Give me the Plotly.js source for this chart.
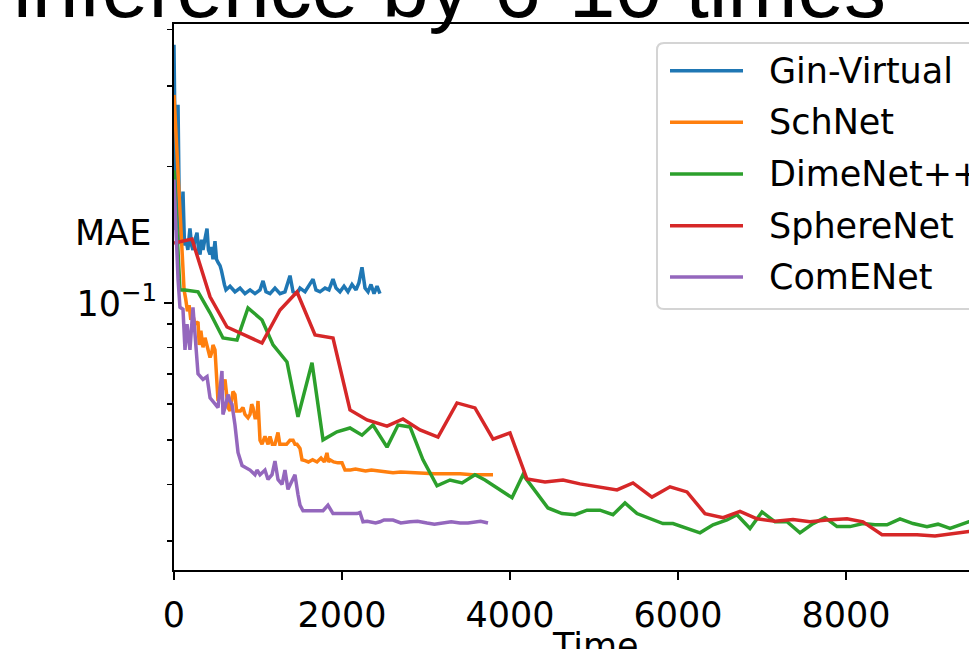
<!DOCTYPE html>
<html><head><meta charset="utf-8">
<script src="https://cdn.plot.ly/plotly-3.0.1.min.js"></script>
<style>html,body{margin:0;padding:0;background:#fff;overflow:hidden}#chart{width:969px;height:649px}</style>
</head><body><div id="chart"></div>
<script>
// ---------------- data ----------------
const seriesNames = ['Gin-Virtual', 'SchNet', 'DimeNet++', 'SphereNet', 'ComENet'];
const seriesColors = ['#1f77b4', '#ff7f0e', '#2ca02c', '#d62728', '#9467bd'];
const xTickVals = [0, 2000, 4000, 6000, 8000];
const xTickText = ['0', '2000', '4000', '6000', '8000'];
const yTickVals = [0.1];
const yTickText = ['10<sup>\u22121</sup>'];
const yMinorVals = [0.03, 0.04, 0.05, 0.06, 0.07, 0.08, 0.09, 0.2, 0.3, 0.4];

const ginTime = [0, 24, 48, 65, 83, 107, 125, 143, 165, 190, 210, 226, 250, 274, 292, 310, 328, 345, 370, 393, 410, 429, 446, 464, 488, 506, 524, 548, 565, 583, 600, 619, 667, 726, 786, 845, 905, 964, 1024, 1060, 1095, 1143, 1202, 1262, 1321, 1381, 1417, 1464, 1500, 1560, 1607, 1655, 1690, 1738, 1798, 1845, 1893, 1929, 1976, 2024, 2071, 2119, 2167, 2202, 2238, 2274, 2310, 2345, 2381, 2417, 2452];
const ginMAE = [0.370, 0.145, 0.273, 0.149, 0.135, 0.176, 0.134, 0.138, 0.131, 0.146, 0.134, 0.131, 0.138, 0.143, 0.131, 0.128, 0.138, 0.131, 0.139, 0.146, 0.131, 0.128, 0.133, 0.125, 0.137, 0.125, 0.123, 0.121, 0.118, 0.113, 0.110, 0.107, 0.109, 0.106, 0.108, 0.105, 0.107, 0.105, 0.107, 0.112, 0.106, 0.105, 0.108, 0.105, 0.106, 0.115, 0.106, 0.105, 0.108, 0.106, 0.109, 0.113, 0.107, 0.106, 0.108, 0.107, 0.113, 0.108, 0.106, 0.109, 0.106, 0.110, 0.107, 0.111, 0.120, 0.108, 0.106, 0.110, 0.105, 0.109, 0.105];

const schTime = [0, 60, 95, 120, 140, 160, 180, 200, 226, 250, 286, 300, 320, 345, 369, 400, 429, 450, 464, 488, 505, 524, 550, 583, 607, 625, 643, 667, 702, 726, 745, 762, 790, 821, 845, 881, 905, 925, 940, 965, 988, 1000, 1010, 1024, 1048, 1083, 1120, 1143, 1170, 1202, 1238, 1260, 1298, 1340, 1380, 1417, 1440, 1464, 1500, 1524, 1560, 1600, 1650, 1702, 1750, 1790, 1821, 1840, 1857, 1900, 1950, 2000, 2036, 2100, 2160, 2214, 2280, 2350, 2429, 2480, 2536, 2607, 2700, 2845, 2950, 3100, 3250, 3405, 3550, 3700, 3798];
const schMAE = [0.287, 0.169, 0.125, 0.107, 0.102, 0.096, 0.099, 0.092, 0.094, 0.090, 0.091, 0.081, 0.087, 0.080, 0.084, 0.079, 0.076, 0.078, 0.081, 0.079, 0.070, 0.061, 0.063, 0.065, 0.068, 0.063, 0.059, 0.058, 0.064, 0.063, 0.058, 0.058, 0.058, 0.059, 0.057, 0.056, 0.057, 0.060, 0.059, 0.056, 0.056, 0.061, 0.055, 0.050, 0.049, 0.051, 0.049, 0.051, 0.049, 0.049, 0.052, 0.049, 0.049, 0.049, 0.050, 0.050, 0.049, 0.049, 0.048, 0.0453, 0.0451, 0.0448, 0.0453, 0.0448, 0.0457, 0.0448, 0.0469, 0.0448, 0.0453, 0.0448, 0.0446, 0.0446, 0.0430, 0.0430, 0.0432, 0.0430, 0.0428, 0.0430, 0.0428, 0.0426, 0.0424, 0.0424, 0.0426, 0.0424, 0.0424, 0.0422, 0.0422, 0.0422, 0.0420, 0.0420, 0.0420];

const dimeTime = [0, 71, 131, 286, 429, 583, 750, 881, 1048, 1179, 1345, 1476, 1643, 1774, 1940, 2095, 2238, 2369, 2536, 2667, 2810, 2964, 3131, 3286, 3429, 3583, 3702, 3881, 4024, 4155, 4452, 4619, 4774, 4917, 5071, 5226, 5369, 5512, 5667, 5821, 5940, 6107, 6262, 6417, 6583, 6702, 6857, 7000, 7155, 7298, 7452, 7607, 7750, 7893, 8048, 8202, 8345, 8488, 8643, 8798, 8964, 9095, 9238, 9357, 9464, 9619];
const dimeMAE = [0.196, 0.107, 0.107, 0.106, 0.0953, 0.0839, 0.0830, 0.0977, 0.0919, 0.0810, 0.0743, 0.0563, 0.0740, 0.0501, 0.0522, 0.0532, 0.0513, 0.0540, 0.0483, 0.0540, 0.0535, 0.0453, 0.0397, 0.0409, 0.0403, 0.0420, 0.0409, 0.0389, 0.0374, 0.0420, 0.0355, 0.0345, 0.0343, 0.0351, 0.0351, 0.0343, 0.0364, 0.0345, 0.0336, 0.0328, 0.0328, 0.0320, 0.0313, 0.0326, 0.0334, 0.0343, 0.0320, 0.0348, 0.0331, 0.0331, 0.0313, 0.0328, 0.0338, 0.0323, 0.0323, 0.0328, 0.0326, 0.0326, 0.0336, 0.0328, 0.0323, 0.0327, 0.0320, 0.0326, 0.0331, 0.0336];

const sphereTime = [0, 214, 429, 631, 1048, 1262, 1464, 1679, 1893, 2095, 2298, 2536, 2726, 2929, 3143, 3369, 3583, 3798, 4000, 4202, 4417, 4631, 4833, 5071, 5274, 5464, 5690, 5905, 6107, 6321, 6536, 6738, 6940, 7155, 7369, 7571, 7774, 8012, 8202, 8429, 8643, 8845, 9060, 9274, 9464, 9655];
const sphereMAE = [0.1357, 0.1384, 0.1033, 0.0887, 0.0818, 0.0967, 0.1059, 0.0852, 0.0839, 0.0583, 0.0554, 0.0537, 0.0557, 0.0527, 0.0508, 0.0604, 0.0589, 0.0503, 0.0519, 0.0411, 0.0405, 0.0409, 0.0401, 0.0395, 0.0389, 0.0403, 0.0375, 0.0395, 0.0385, 0.0345, 0.0338, 0.0349, 0.0336, 0.0332, 0.0335, 0.0331, 0.0334, 0.0336, 0.0331, 0.0310, 0.0310, 0.0310, 0.0308, 0.0312, 0.0315, 0.0317];

const comeTime = [0, 25, 48, 71, 107, 131, 155, 190, 226, 262, 286, 345, 393, 429, 464, 524, 571, 583, 607, 643, 665, 690, 726, 762, 810, 905, 964, 988, 1024, 1083, 1119, 1167, 1202, 1238, 1286, 1321, 1357, 1417, 1440, 1476, 1500, 1536, 1655, 1774, 1833, 1893, 2060, 2179, 2214, 2250, 2300, 2400, 2452, 2500, 2607, 2700, 2810, 2900, 3012, 3100, 3300, 3405, 3500, 3650, 3738];
const comeMAE = [0.187, 0.138, 0.113, 0.098, 0.097, 0.079, 0.090, 0.079, 0.098, 0.080, 0.070, 0.068, 0.069, 0.062, 0.061, 0.059, 0.071, 0.057, 0.059, 0.063, 0.061, 0.060, 0.054, 0.047, 0.044, 0.043, 0.042, 0.043, 0.042, 0.043, 0.041, 0.042, 0.045, 0.041, 0.040, 0.043, 0.039, 0.041, 0.042, 0.038, 0.036, 0.035, 0.035, 0.035, 0.036, 0.0345, 0.0345, 0.0345, 0.0347, 0.0331, 0.0332, 0.0329, 0.0331, 0.0334, 0.0334, 0.0329, 0.0331, 0.0332, 0.0329, 0.0327, 0.0331, 0.0329, 0.0329, 0.0332, 0.0329];

const titleText = 'inference by 6-10 times';
const xLabel = 'Time';
const yLabel = 'MAE';

// ---------------- layout geometry ----------------
const W = 969, H = 649, L = 174, T = 24, B = 79, R = 0;
const PW = W - L - R, PH = H - T - B;
const px = x => (x - L) / PW;          // pixel -> paper x
const py = y => (H - B - y) / PH;      // pixel -> paper y

const xs = [ginTime, schTime, dimeTime, sphereTime, comeTime];
const ys = [ginMAE, schMAE, dimeMAE, sphereMAE, comeMAE];
const traces = seriesNames.map((n, i) => ({
  type: 'scatter', mode: 'lines', name: n, x: xs[i], y: ys[i],
  line: {color: seriesColors[i], width: 3.5}, showlegend: false, hoverinfo: 'skip'
}));

// custom matplotlib-like legend
const legLeft = 657, legTop = 43, legBottom = 309, legRight = 1010, rad = 7;
const shapes = [];
const x0 = px(legLeft), x1 = px(legRight), y0 = py(legBottom), y1 = py(legTop);
const rx = rad / PW, ry = rad / PH;
shapes.push({
  type: 'path', xref: 'paper', yref: 'paper', layer: 'above',
  path: `M ${x0 + rx} ${y1} L ${x1} ${y1} L ${x1} ${y0} L ${x0 + rx} ${y0} Q ${x0} ${y0} ${x0} ${y0 + ry} L ${x0} ${y1 - ry} Q ${x0} ${y1} ${x0 + rx} ${y1} Z`,
  fillcolor: 'rgba(255,255,255,0.8)', line: {color: '#d4d4d4', width: 2}
});
const rowY = [70.7, 122.3, 174, 225.7, 276.9];
const annotations = [];
seriesNames.forEach((n, i) => {
  shapes.push({type: 'line', xref: 'paper', yref: 'paper', layer: 'above',
    x0: px(670), x1: px(743), y0: py(rowY[i]), y1: py(rowY[i]),
    line: {color: seriesColors[i], width: 3.5}});
  annotations.push({xref: 'paper', yref: 'paper', x: px(767), y: py(rowY[i]),
    xanchor: 'left', yanchor: 'middle', text: n, showarrow: false,
    font: {family: 'DejaVu Sans', size: 35, color: '#000'}});
});
annotations.push({xref: 'paper', yref: 'paper', x: px(888), y: py(37), xanchor: 'right', yanchor: 'bottom',
  text: titleText, showarrow: false, font: {family: 'Liberation Sans, Arial', size: 84, color: '#000'}});
annotations.push({xref: 'paper', yref: 'paper', x: px(153), y: py(232.5), xanchor: 'right', yanchor: 'middle',
  text: yLabel, showarrow: false, font: {family: 'DejaVu Sans', size: 35, color: '#000'}});
annotations.push({xref: 'paper', yref: 'paper', x: px(595), y: py(624), xanchor: 'center', yanchor: 'top',
  text: xLabel, showarrow: false, font: {family: 'DejaVu Sans', size: 35, color: '#000'}});

const yTop = -1 + (303.3 - T) / 455, yBot = -1 - (H - B - 303.3) / 455;

const layout = {
  width: W, height: H,
  margin: {l: L, r: R, t: T, b: B, pad: 0},
  paper_bgcolor: '#fff', plot_bgcolor: '#fff',
  font: {family: 'DejaVu Sans', size: 35, color: '#000'},
  showlegend: false,
  xaxis: {
    range: [0, PW / 0.084], showgrid: false, zeroline: false,
    showline: true, linecolor: '#000', linewidth: 1.9, mirror: true,
    ticks: 'outside', ticklen: 8, tickwidth: 1.9, tickcolor: '#000',
    tickmode: 'array', tickvals: xTickVals, ticktext: xTickText,
    ticklabelstandoff: 5,
    tickfont: {family: 'DejaVu Sans', size: 35, color: '#000'}
  },
  yaxis: {
    type: 'log', range: [yBot, yTop], showgrid: false, zeroline: false,
    showline: true, linecolor: '#000', linewidth: 1.9, mirror: false,
    ticks: 'outside', ticklen: 8, tickwidth: 1.9, tickcolor: '#000',
    tickmode: 'array', tickvals: yTickVals, ticktext: yTickText,
    tickfont: {family: 'DejaVu Sans', size: 35, color: '#000'},
    minor: {tickmode: 'array', tickvals: yMinorVals, ticks: 'outside', ticklen: 5, tickwidth: 1.6, tickcolor: '#000', showgrid: false}
  },
  shapes: shapes,
  annotations: annotations
};

Plotly.newPlot('chart', traces, layout, {staticPlot: true, displayModeBar: false});
</script>
</body></html>
